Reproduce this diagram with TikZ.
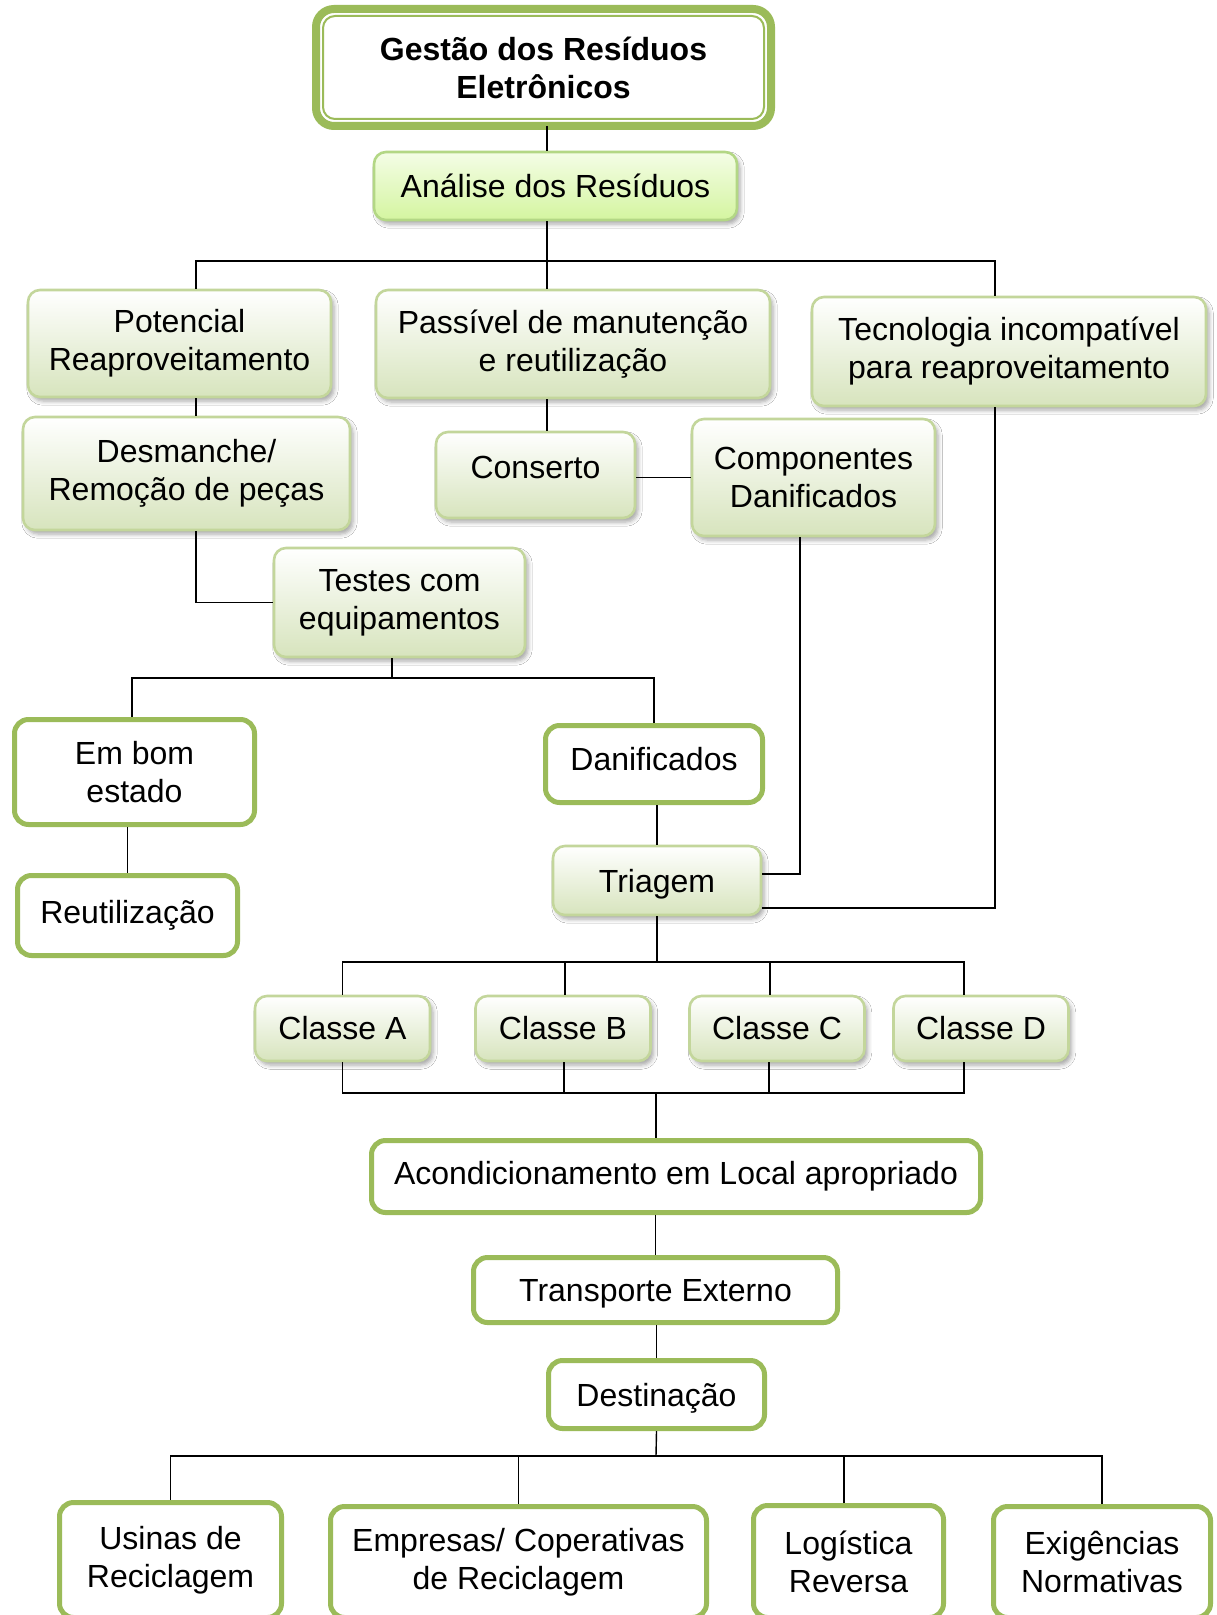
\documentclass[tikz,border=0pt]{standalone}
\usepackage{fontspec}
\setmainfont{Liberation Sans}
\usetikzlibrary{shadows.blur}
\definecolor{oliva}{HTML}{9BBB59}
\definecolor{olivaclaro}{HTML}{C3D69B}
\definecolor{olivafundo}{HTML}{D7E4BD}
\definecolor{limaborda}{HTML}{B3D785}
\definecolor{limatopo}{HTML}{F4FDE6}
\definecolor{limafundo}{HTML}{D4F5A0}
\tikzset{
  texto/.style={font=\fontsize{16}{19}\selectfont, align=center, inner sep=0pt},
  caixa/.style={texto, rounded corners=6pt, draw=olivaclaro, line width=1.3pt,
    top color=white, bottom color=olivafundo,
    blur shadow={shadow xshift=1.5pt, shadow yshift=-2pt, shadow opacity=35}},
  caixalima/.style={caixa, draw=limaborda, top color=limatopo, bottom color=limafundo},
  moldura/.style={texto, rounded corners=7pt, draw=oliva, line width=2.5pt, fill=white},
  titulo/.style={texto, font=\fontsize{16}{19}\selectfont\bfseries, rounded corners=9pt,
    draw=oliva, line width=4pt, fill=white, outer sep=0pt},
  ligacao/.style={line width=0.7pt, black}
}

\begin{document}
\begin{tikzpicture}[x=0.5pt, y=-0.5pt]
		%%%%% START %%%%%
		\fill[white] (0,0) rectangle (1216,1615);
		\useasboundingbox (0,0) rectangle (1216,1615);
		
		\node[titulo, minimum width=227.5pt, minimum height=58.5pt] (title) at (543.5,67.5) {Gestão dos Resíduos\\Eletrônicos};
		\draw[oliva, line width=1pt, rounded corners=6pt] ([shift={(3.5pt,-3.5pt)}]title.north west) rectangle ([shift={(-3.5pt,3.5pt)}]title.south east);
		
		\node[caixalima, minimum width=181.5pt, minimum height=34pt] (anal) at (555.5,186) {Análise dos Resíduos};
		
		\node[caixa, minimum width=151.5pt, minimum height=53.5pt] (pot) at (179.5,343.5) {Potencial\\Reaproveitamento};
		\node[caixa, minimum width=197pt, minimum height=54pt] (pas) at (573,344) {Passível de manutenção\\e reutilização};
		\node[caixa, minimum width=197pt, minimum height=54.5pt] (tec) at (1009,351.5) {Tecnologia incompatível\\para reaproveitamento};
		
		\node[caixa, minimum width=163.5pt, minimum height=56.5pt] (desm) at (186.5,473.5) {Desmanche/\\Remoção de peças};
		\node[caixa, minimum width=99.5pt, minimum height=43pt, text depth=8pt] (cons) at (535.5,475) {Conserto};
		\node[caixa, minimum width=121.5pt, minimum height=58.5pt] (comp) at (813.5,477.5) {Componentes\\Danificados};
		\node[caixa, minimum width=125.5pt, minimum height=54.5pt] (test) at (399.5,602.5) {Testes com\\equipamentos};
		
		\node[moldura, minimum width=120pt, minimum height=52.5pt] (bom) at (134.5,772) {Em bom\\estado};
		\node[moldura, minimum width=110pt, minimum height=40pt] (reu) at (127.5,915.5) {Reutilização};
		\node[moldura, minimum width=108.5pt, minimum height=38.5pt, text depth=5pt] (dan) at (654,764) {Danificados};
		\node[caixa, minimum width=104pt, minimum height=34.5pt, text depth=0pt] (tri) at (657,880.5) {Triagem};
		
		\node[caixa, minimum width=87.5pt, minimum height=32.5pt] (ca) at (342.5,1028.5) {Classe A};
		\node[caixa, minimum width=87.5pt, minimum height=32.5pt] (cb) at (563,1028.5) {Classe B};
		\node[caixa, minimum width=87.5pt, minimum height=32.5pt] (cc) at (777,1028.5) {Classe C};
		\node[caixa, minimum width=87.5pt, minimum height=32.5pt] (cd) at (981,1028.5) {Classe D};
		
		\node[moldura, minimum width=304.5pt, minimum height=36pt] (acond) at (676,1176.5) {Acondicionamento em Local apropriado};
		\node[moldura, minimum width=182pt, minimum height=32.5pt, text depth=0pt] (trans) at (655.5,1290) {Transporte Externo};
		\node[moldura, minimum width=108pt, minimum height=34pt, text depth=0pt] (dest) at (656.5,1394.5) {Destinação};
		
		\node[moldura, minimum width=111pt, minimum height=57.5pt] (usi) at (170.5,1560) {Usinas de\\Reciclagem};
		\node[moldura, minimum width=188pt, minimum height=55.5pt] (emp) at (518.5,1562) {Empresas/ Coperativas\\de Reciclagem};
		\node[moldura, minimum width=95pt, minimum height=56pt] (log) at (848.5,1561.5) {Logística\\Reversa};
		\node[moldura, minimum width=108.5pt, minimum height=55.5pt] (exi) at (1102,1562) {Exigências\\Normativas};
		
		% ligacoes
		\coordinate (nA) at (547,261);
		\draw[ligacao] (title.south -| nA) -- (anal.north -| nA);
		\draw[ligacao] (anal.south -| nA) -- (pas.north -| nA);
		\draw[ligacao] (pot.north -| 196,0) |- (nA) -| (tec.north -| 995,0);
		\draw[ligacao] (pot.south -| 196,0) -- (desm.north -| 196,0);
		\draw[ligacao] (pas.south -| nA) -- (cons.north -| nA);
		\draw[ligacao] (cons.east |- comp.west) -- (comp.west);
		\draw[ligacao] (desm.south -| 196,0) |- (test.west);
		
		\coordinate (nT) at (392,678);
		\draw[ligacao] (test.south -| nT) -- (nT);
		\draw[ligacao] (bom.north -| 132,0) |- (nT) -| (dan.north);
		\draw[ligacao] (bom.south -| reu.north) -- (reu.north);
		\draw[ligacao] (dan.south -| tri.north) -- (tri.north);
		\draw[ligacao] (comp.south -| 800,0) |- (tri.east |- 0,874);
		\draw[ligacao] (tec.south -| 995,0) |- (tri.east |- 0,908);
		
		\coordinate (nC) at (657,962);
		\draw[ligacao] (tri.south) -- (nC);
		\draw[ligacao] (ca.north) |- (nC) -| (cd.north -| 964,0);
		\draw[ligacao] (cb.north -| 565,0) -- (nC -| 565,0);
		\draw[ligacao] (cc.north -| 770,0) -- (nC -| 770,0);
		
		\coordinate (nD) at (656,1093);
		\draw[ligacao] (ca.south) |- (nD) -| (cd.south -| 964,0);
		\draw[ligacao] (cb.south -| 564,0) -- (nD -| 564,0);
		\draw[ligacao] (cc.south -| 769,0) -- (nD -| 769,0);
		\draw[ligacao] (nD) -- (acond.north -| nD);
		\draw[ligacao] (acond.south -| trans.north) -- (trans.north);
		\draw[ligacao] (trans.south -| dest.north) -- (dest.north);
		
		\coordinate (nE) at (656,1456);
		\draw[ligacao] (dest.south) -- (nE);
		\draw[ligacao] (usi.north) |- (nE) -| (exi.north);
		\draw[ligacao] (emp.north) -- (emp.north |- nE);
		\draw[ligacao] (log.north -| 844,0) -- (nE -| 844,0);
		%%%%% END %%%%%
\end{tikzpicture}
\end{document}
